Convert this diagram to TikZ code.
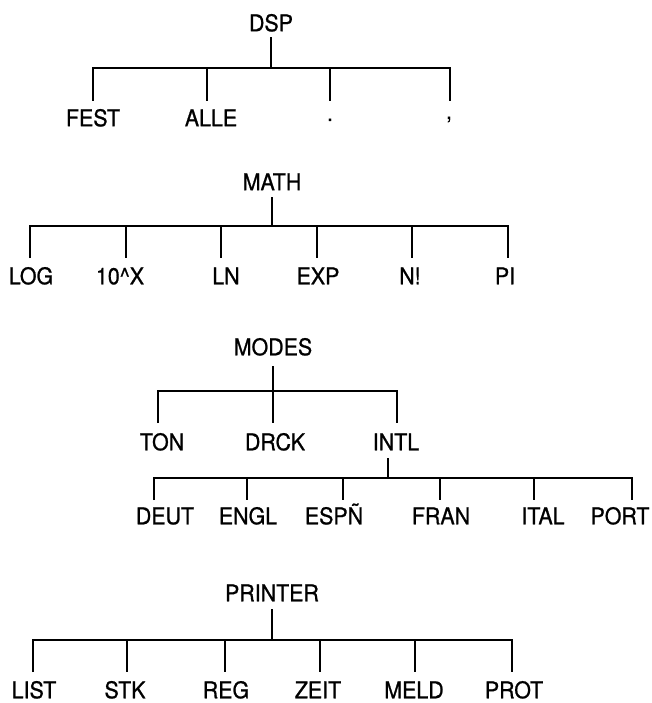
\documentclass[tikz,border=0pt]{standalone}
\usepackage{fontspec}
\setmainfont{TeX Gyre Heros}[FakeStretch=0.93,FakeBold=0.9]
\begin{document}
\begin{tikzpicture}[x=1pt,y=-1pt,
  lbl/.style={font=\fontsize{23}{26}\selectfont, inner sep=0pt, text height=16.5pt, text depth=0pt},
  ln/.style={line width=2pt, line join=miter}]
\useasboundingbox (0,0) rectangle (652,703);
% ---------------- DSP
\node[lbl] (dsp) at (271,23) {DSP};
\node[lbl] (fest) at (93,118) {FEST};
\node[lbl] (alle) at (211,118) {ALLE};
\node[lbl, anchor=base] (pt) at (330,121) {.};
\node[lbl, anchor=base] (cm) at (449,119) {,};
\coordinate (dspJ) at (271,68);
\coordinate (dsp1) at (93,101);
\coordinate (dsp2) at (207,101);
\coordinate (dsp3) at (330,101);
\coordinate (dsp4) at (450,101);
\draw[ln] ([yshift=-6pt]dsp.south) -- (dspJ);
\draw[ln] (dsp1) -- (dsp1 |- dspJ) -- (dsp4 |- dspJ) -- (dsp4);
\draw[ln] (dsp2 |- dspJ) -- (dsp2);
\draw[ln] (dsp3 |- dspJ) -- (dsp3);
% ---------------- MATH
\node[lbl] (math) at (272,182) {MATH};
\node[lbl] (log) at (31,276) {LOG};
\node[lbl] (tenx) at (120,276) {10\char`\^X};
\node[lbl] (lnn) at (226,276) {LN};
\node[lbl] (exp) at (318,276) {EXP};
\node[lbl] (fac) at (410,276) {N!};
\node[lbl] (pi) at (505,276) {PI};
\coordinate (mathJ) at (272,226);
\coordinate (m1) at (30,258);
\coordinate (m2) at (126,258);
\coordinate (m3) at (221,258);
\coordinate (m4) at (317,258);
\coordinate (m5) at (412,258);
\coordinate (m6) at (508,258);
\draw[ln] ([yshift=-7pt]math.south) -- (mathJ);
\draw[ln] (m1) -- (m1 |- mathJ) -- (m6 |- mathJ) -- (m6);
\foreach \c in {m2,m3,m4,m5} \draw[ln] (\c |- mathJ) -- (\c);
% ---------------- MODES
\node[lbl] (modes) at (273,347) {MODES};
\node[lbl] (ton) at (162,442) {TON};
\node[lbl] (drck) at (275,442) {DRCK};
\node[lbl] (intl) at (396,442) {INTL};
\coordinate (modesJ) at (273,391);
\coordinate (o1) at (158,423);
\coordinate (o2) at (273,423);
\coordinate (o3) at (397,423);
\draw[ln] ([yshift=-11pt]modes.south) -- (o2);
\draw[ln] (o1) -- (o1 |- modesJ) -- (o3 |- modesJ) -- (o3);
% INTL sub tree
\node[lbl] (deut) at (165,516) {DEUT};
\node[lbl] (engl) at (248,516) {ENGL};
\node[lbl] (espn) at (334,516) {ESPÑ};
\node[lbl] (fran) at (441,516) {FRAN};
\node[lbl] (ital) at (543,516) {ITAL};
\node[lbl] (port) at (620,516) {PORT};
\coordinate (intlS) at (388,458);
\coordinate (intlJ) at (388,478);
\coordinate (i1) at (154,500);
\coordinate (i2) at (247,500);
\coordinate (i3) at (343,500);
\coordinate (i4) at (440,500);
\coordinate (i5) at (534,500);
\coordinate (i6) at (632,500);
\draw[ln] (intlS) -- (intlJ);
\draw[ln] (i1) -- (i1 |- intlJ) -- (i6 |- intlJ) -- (i6);
\foreach \c in {i2,i3,i4,i5} \draw[ln] (\c |- intlJ) -- (\c);
% ---------------- PRINTER
\node[lbl] (printer) at (272,593) {PRINTER};
\node[lbl] (list) at (34,690) {LIST};
\node[lbl] (stk) at (125,690) {STK};
\node[lbl] (reg) at (226,690) {REG};
\node[lbl] (zeit) at (318,690) {ZEIT};
\node[lbl] (meld) at (414,690) {MELD};
\node[lbl] (prot) at (514,690) {PROT};
\coordinate (prJ) at (272,640);
\coordinate (p1) at (33,672);
\coordinate (p2) at (127,672);
\coordinate (p3) at (225,672);
\coordinate (p4) at (320,672);
\coordinate (p5) at (415,672);
\coordinate (p6) at (512,672);
\draw[ln] ([yshift=-8pt]printer.south) -- (prJ);
\draw[ln] (p1) -- (p1 |- prJ) -- (p6 |- prJ) -- (p6);
\foreach \c in {p2,p3,p4,p5} \draw[ln] (\c |- prJ) -- (\c);
\end{tikzpicture}
\end{document}
